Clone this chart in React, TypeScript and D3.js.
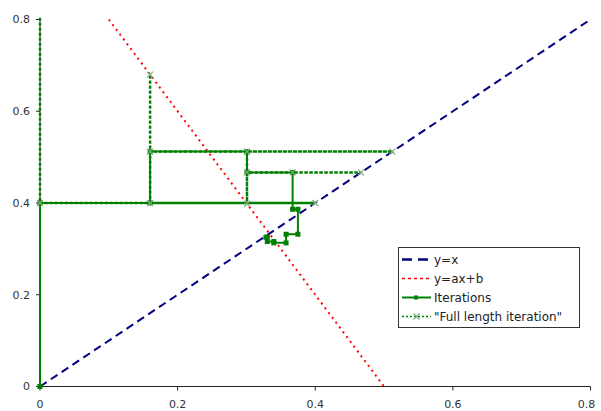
import React from "react";
import * as d3 from "d3";

const xTicks = [0, 0.2, 0.4, 0.6, 0.8];
const yTicks = [0, 0.2, 0.4, 0.6, 0.8];

const identityX = [0, 0.8];
const identityY = [0, 0.8];

const lineX = [0.1, 0.5];
const lineY = [0.8, 0];

const iterX = [0, 0, 0.16, 0.16, 0.3008, 0.3008, 0.3671, 0.3671, 0.3748, 0.3748, 0.3576, 0.3576, 0.3398, 0.3398, 0.3303, 0.3303, 0.3283];
const iterY = [0, 0.4, 0.4, 0.512, 0.512, 0.4666, 0.4666, 0.3863, 0.3863, 0.3319, 0.3319, 0.3131, 0.3131, 0.316, 0.316, 0.3254, 0.3254];

const fullX = [0, 0, 0.4, 0.16, 0.16, 0.16, 0.512, 0.3008, 0.3008, 0.3008, 0.4666, 0.3671];
const fullY = [1, 0.4, 0.4, 0.4, 0.68, 0.512, 0.512, 0.512, 0.3984, 0.4666, 0.4666, 0.4666];

const legendLabels = ["y=x", "y=ax+b", "Iterations", "\"Full length iteration\""];

const W = 601;
const H = 411;
const x = d3.scaleLinear().domain([0, 0.8]).range([40, 590.5]);
const y = d3.scaleLinear().domain([0, 0.8]).range([386.5, 19.5]);

const zip = (xs: number[], ys: number[]) => xs.map((v, i) => [v, ys[i]] as [number, number]);
const line = d3.line<[number, number]>().x((d) => x(d[0])).y((d) => y(d[1]));

const GREEN = "#008000";
const font = "DejaVu Sans, Verdana, sans-serif";

function XMark({ cx, cy }: { cx: number; cy: number }) {
  const s = 3;
  return (
    <path
      d={`M${cx - s},${cy - s}L${cx + s},${cy + s}M${cx - s},${cy + s}L${cx + s},${cy - s}`}
      stroke="#7fae7f"
      strokeWidth={1.2}
      fill="none"
    />
  );
}

export default function App() {
  const iter = zip(iterX, iterY);
  const full = zip(fullX, fullY);
  const lx = 398.5;
  const ly = 247.5;
  const rows = [259.5, 278.5, 297.5, 316.5];
  return (
    <svg width={W} height={H} style={{ position: "absolute", left: 0, top: 0 }}>
      <defs>
        <clipPath id="plot">
          <rect x={x(0) - 5} y={y(0.8) - 2} width={x(0.8) - x(0) + 10} height={y(0) - y(0.8) + 7} />
        </clipPath>
      </defs>
      <line x1={x(0)} x2={x(0)} y1={y(0)} y2={y(0.8)} stroke="#222" strokeWidth={1} />
      <line x1={x(0)} x2={x(0.8)} y1={y(0)} y2={y(0)} stroke="#222" strokeWidth={1} />
      {yTicks.map((t) => (
        <g key={"y" + t}>
          <line x1={x(0) - 4} x2={x(0)} y1={y(t)} y2={y(t)} stroke="#222" />
          <text x={30} y={y(t)} dy="0.35em" textAnchor="end" fontFamily={font} fontSize={11} fill="#333">
            {t === 0 ? "0" : t.toFixed(1)}
          </text>
        </g>
      ))}
      {xTicks.map((t) => (
        <g key={"x" + t}>
          <line x1={x(t)} x2={x(t)} y1={y(0)} y2={y(0) + 4} stroke="#222" />
          <text x={t === 0.8 ? x(t) - 4 : x(t)} y={408} textAnchor="middle" fontFamily={font} fontSize={11} fill="#333">
            {t === 0 ? "0" : t.toFixed(1)}
          </text>
        </g>
      ))}
      <g clipPath="url(#plot)">
        <path d={line(zip(identityX, identityY)) || ""} stroke="#000080" strokeWidth={2} strokeDasharray="8,5" fill="none" />
        <path d={line(zip(lineX, lineY)) || ""} stroke="#ff0000" strokeWidth={2} strokeDasharray="2,4" fill="none" />
        <path d={line(iter) || ""} stroke={GREEN} strokeWidth={2} fill="none" />
        {iter.map((p, i) => (
          <rect key={"m" + i} x={x(p[0]) - 2.5} y={y(p[1]) - 2.5} width={5} height={5} fill={GREEN} />
        ))}
        <path d={line(full) || ""} stroke={GREEN} strokeWidth={2.5} strokeDasharray="3,2" fill="none" />
        {full.map((p, i) => (
          <XMark key={"f" + i} cx={x(p[0])} cy={y(p[1])} />
        ))}
      </g>
      <rect x={lx} y={ly} width={181} height={80} fill="#fff" stroke="#333" strokeWidth={1} />
      <line x1={402} x2={431} y1={rows[0]} y2={rows[0]} stroke="#000080" strokeWidth={2.5} strokeDasharray="10,6" />
      <line x1={402} x2={431} y1={rows[1]} y2={rows[1]} stroke="#ff0000" strokeWidth={1.5} strokeDasharray="3,3" />
      <line x1={402} x2={431} y1={rows[2]} y2={rows[2]} stroke={GREEN} strokeWidth={2} />
      <rect x={414} y={rows[2] - 2} width={4} height={4} fill={GREEN} />
      <line x1={402} x2={431} y1={rows[3]} y2={rows[3]} stroke={GREEN} strokeWidth={1.5} strokeDasharray="2,2" />
      <XMark cx={416.5} cy={rows[3]} />
      {legendLabels.map((l, i) => (
        <text key={l} x={434} y={rows[i]} dy="0.35em" fontFamily={font} fontSize={12} fill="#222">
          {l}
        </text>
      ))}
    </svg>
  );
}
